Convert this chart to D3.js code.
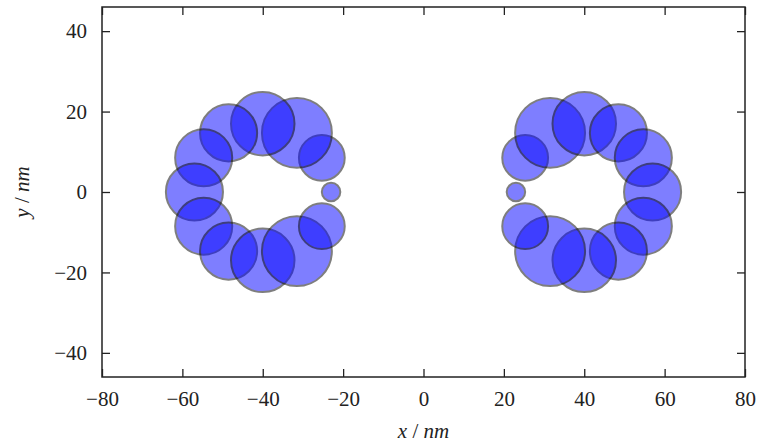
<!DOCTYPE html>
<html>
<head>
<meta charset="utf-8">
<script src="https://cdn.jsdelivr.net/npm/d3@7"></script>
<style>
  html, body { margin: 0; padding: 0; background: #fff; }
  svg { display: block; }
  text { font-family: "Liberation Serif", "DejaVu Serif", serif; fill: #222; }
</style>
</head>
<body>
<svg id="chart" width="757" height="446"></svg>
<script>
// Particle positions (nm) and radii (nm) for the two rings
const circleX = [
  -23.0, -25.3, -31.5, -40.0, -48.5, -54.7, -57.0, -54.7, -48.5, -40.0, -31.5, -25.3,
   23.0,  25.3,  31.5,  40.0,  48.5,  54.7,  57.0,  54.7,  48.5,  40.0,  31.5,  25.3
];
const circleY = [
    0.0,   8.5,  14.7,  17.0,  14.7,   8.5,   0.0,  -8.5, -14.7, -17.0, -14.7,  -8.5,
    0.0,   8.5,  14.7,  17.0,  14.7,   8.5,   0.0,  -8.5, -14.7, -17.0, -14.7,  -8.5
];
const circleR = [
    2.3,   5.7,   8.7,   7.9,   7.1,   7.1,   7.1,   7.1,   7.1,   7.9,   8.7,   5.7,
    2.3,   5.7,   8.7,   7.9,   7.1,   7.1,   7.1,   7.1,   7.1,   7.9,   8.7,   5.7
];

const xTicks = [-80, -60, -40, -20, 0, 20, 40, 60, 80];
const yTicks = [-40, -20, 0, 20, 40];
const xDomain = [-80, 80];
const yDomain = [-46, 46];

const svg = d3.select("#chart");
const W = 757, H = 446;
const margin = { top: 7, right: 12, bottom: 69, left: 102 };
const iw = W - margin.left - margin.right;
const ih = H - margin.top - margin.bottom;

const x = d3.scaleLinear().domain(xDomain).range([0, iw]);
const y = d3.scaleLinear().domain(yDomain).range([ih, 0]);
const k = x(1) - x(0); // pixels per nm

const g = svg.append("g").attr("transform", `translate(${margin.left},${margin.top})`);

const clip = svg.append("defs").append("clipPath").attr("id", "plot-clip");
clip.append("rect").attr("width", iw).attr("height", ih);

// Particles
const particles = d3.range(circleX.length).map(i => ({ x: circleX[i], y: circleY[i], r: circleR[i] }));
g.append("g").attr("clip-path", "url(#plot-clip)")
  .selectAll("circle").data(particles).join("circle")
  .attr("cx", d => x(d.x))
  .attr("cy", d => y(d.y))
  .attr("r", d => d.r * k)
  .attr("fill", "#0000ff")
  .attr("stroke", "#000")
  .attr("stroke-width", 2)
  .attr("opacity", 0.5);

// Axes with inward ticks on all four sides
const fontSize = 21;
const styleAxis = sel => {
  sel.select(".domain").remove();
  sel.selectAll(".tick line").attr("stroke", "#222").attr("stroke-width", 1.3);
  sel.selectAll(".tick text").attr("font-size", fontSize).attr("fill", "#222")
     .attr("font-family", '"Liberation Serif", "DejaVu Serif", serif');
};

g.append("g").attr("transform", `translate(0,${ih})`)
  .call(d3.axisBottom(x).tickValues(xTicks).tickSizeInner(-8).tickSizeOuter(0).tickPadding(14))
  .call(styleAxis);
g.append("g")
  .call(d3.axisTop(x).tickValues(xTicks).tickSizeInner(-8).tickSizeOuter(0).tickFormat(""))
  .call(styleAxis);
g.append("g")
  .call(d3.axisLeft(y).tickValues(yTicks).tickSizeInner(-8).tickSizeOuter(0).tickPadding(15))
  .call(styleAxis);
g.append("g").attr("transform", `translate(${iw},0)`)
  .call(d3.axisRight(y).tickValues(yTicks).tickSizeInner(-8).tickSizeOuter(0).tickFormat(""))
  .call(styleAxis);

// Frame
g.append("rect")
  .attr("width", iw).attr("height", ih)
  .attr("fill", "none").attr("stroke", "#222").attr("stroke-width", 1.5);

// Axis titles
const xl = svg.append("text")
  .attr("x", margin.left + x(0)).attr("y", 438)
  .attr("text-anchor", "middle").attr("font-size", fontSize);
xl.append("tspan").attr("font-style", "italic").text("x");
xl.append("tspan").text(" / ");
xl.append("tspan").attr("font-style", "italic").text("nm");

const yl = svg.append("text")
  .attr("transform", `translate(29,${margin.top + y(0)}) rotate(-90)`)
  .attr("text-anchor", "middle").attr("font-size", fontSize);
yl.append("tspan").attr("font-style", "italic").text("y");
yl.append("tspan").text(" / ");
yl.append("tspan").attr("font-style", "italic").text("nm");
</script>
</body>
</html>
